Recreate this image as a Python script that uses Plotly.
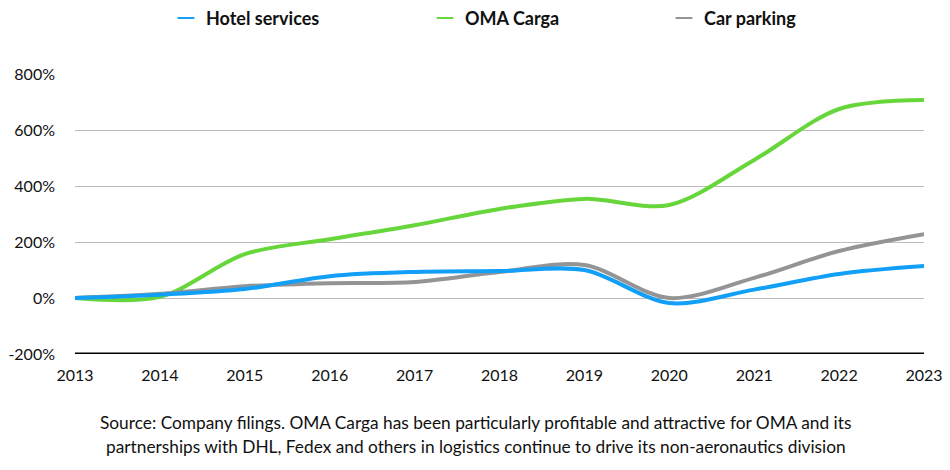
import plotly.graph_objects as go

years = [2013, 2014, 2015, 2016, 2017, 2018, 2019, 2020, 2021, 2022, 2023]
hotel = [0, 12, 32, 78, 93, 96, 100, -18, 30, 86, 114]
carga = [0, 4, 157, 210, 260, 318, 354, 332, 493, 675, 707]
parking = [0, 15, 42, 53, 57, 93, 118, 0, 72, 168, 228]
y_ticks = [-200, 0, 200, 400, 600, 800]
y_labels = ["-200%", "0%", "200%", "400%", "600%", "800%"]

names = ["Hotel services", "OMA Carga", "Car parking"]
colors = ["#119ff7", "#66d63a", "#949494"]
series = [hotel, carga, parking]
legend_ids = ["legend", "legend2", "legend3"]
legend_x = [0.1663, 0.439, 0.6905]

fig = go.Figure()
# draw order: green, gray, blue on top
for idx in [1, 2, 0]:
    fig.add_trace(go.Scatter(
        x=years, y=series[idx], mode="lines", name=names[idx],
        line=dict(color=colors[idx], width=4, shape="spline", smoothing=0.9),
        showlegend=False, hoverinfo="skip"))
for n, c, lid in zip(names, colors, legend_ids):
    fig.add_trace(go.Scatter(
        x=[None], y=[None], mode="markers", name=n, legend=lid,
        marker=dict(symbol="line-ew", size=12, color=c, line=dict(width=4, color=c))))

leg_common = dict(orientation="h", y=0.978, yanchor="middle", yref="container",
                  xref="container", xanchor="left",
                  font=dict(family="Lato", size=18, color="#111", weight="bold"),
                  itemsizing="constant", bgcolor="rgba(0,0,0,0)")
legends = {lid: dict(leg_common, x=lx) for lid, lx in zip(legend_ids, legend_x)}

caption1 = "Source: Company filings. OMA Carga has been particularly profitable and attractive for OMA and its"
caption2 = "partnerships with DHL, Fedex and others in logistics continue to drive its non-aeronautics division"

fig.update_layout(
    width=950, height=470,
    margin=dict(l=67, r=34, t=66, b=124),
    paper_bgcolor="white", plot_bgcolor="white",
    font=dict(family="Lato", size=17, color="#111"),
    xaxis=dict(range=[2013, 2023], tickvals=years, showgrid=False, zeroline=False,
               showline=False, ticks="", tickfont=dict(size=16),
               ticklabelstandoff=10, ticklabeloverflow="allow"),
    yaxis=dict(range=[-200, 800], tickvals=y_ticks, ticktext=y_labels,
               showgrid=True, gridcolor="#bdbdbd", gridwidth=1, zeroline=False,
               showline=False, ticks="", tickfont=dict(size=16),
               ticklabelstandoff=19, ticklabeloverflow="allow"),
    shapes=[dict(type="line", xref="paper", yref="y", x0=0, x1=1, y0=-200, y1=-200,
                 line=dict(color="black", width=3))],
    annotations=[
        dict(xref="paper", yref="paper", x=0.4723, y=-0.2464, xanchor="center",
             yanchor="middle", showarrow=False, text=caption1,
             font=dict(family="Lato", size=17.3, color="#111")),
        dict(xref="paper", yref="paper", x=0.4723, y=-0.332, xanchor="center",
             yanchor="middle", showarrow=False, text=caption2,
             font=dict(family="Lato", size=17.3, color="#111")),
    ],
    **legends,
)
fig.update_xaxes(automargin=False)
fig.update_yaxes(automargin=False)
fig.write_html("out.html")
